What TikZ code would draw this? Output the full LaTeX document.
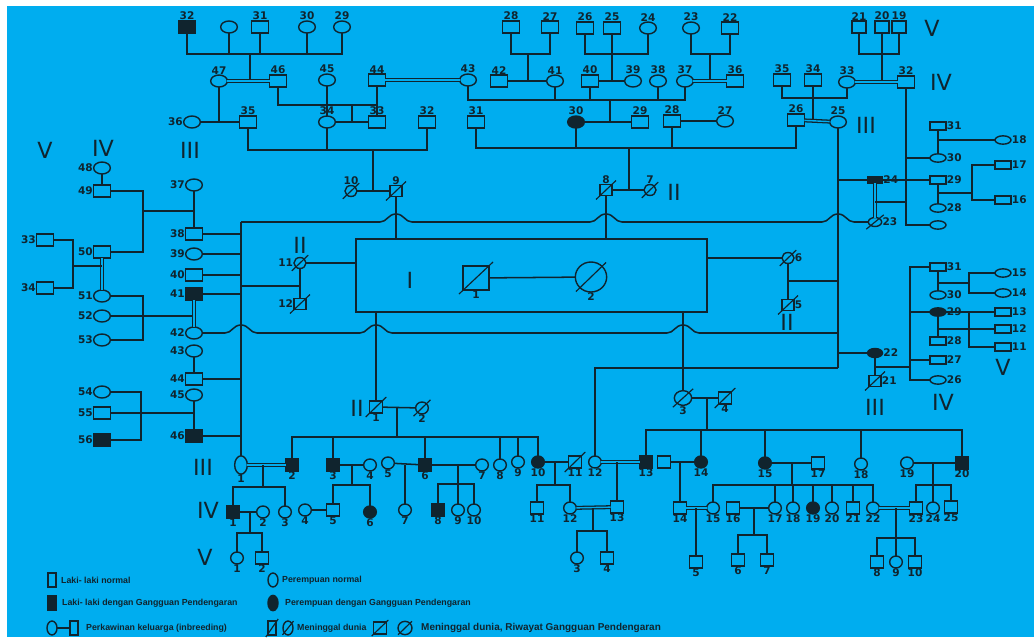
\documentclass[tikz,border=0pt]{standalone}
\usepackage{fontspec}
\setmainfont{DejaVu Sans}
\newfontfamily\lgfont{Liberation Sans}
\usetikzlibrary{shapes.geometric,positioning}

\definecolor{bgblue}{RGB}{0,173,239}
\definecolor{lncol}{RGB}{16,36,46}

% slash for a deceased person
\newcommand\dead[1]{\draw[lncol,line width=1pt] ([shift={(-4,4)}]#1.south west) -- ([shift={(4,-4)}]#1.north east);}
% line hop over a crossing vertical
\newcommand\hop[2]{-- ({#1-16},#2) .. controls ({#1-9},#2) and ({#1-8},{#2-8}) .. (#1,{#2-8}) .. controls ({#1+8},{#2-8}) and ({#1+9},#2) .. ({#1+16},#2)}

\tikzset{
  ln/.style={draw=lncol,line width=1.3pt},
  dbl/.style={draw=lncol,line width=1.1pt,double=bgblue,double distance=1.2pt},
  sym/.style={draw=lncol,line width=1.2pt,fill=bgblue,inner sep=0pt,outer sep=0pt},
  ml/.style={sym,rectangle,minimum width=0.5cm,minimum height=0.36cm},
  fm/.style={sym,ellipse,minimum width=0.5cm,minimum height=0.36cm},
  aff/.style={fill=lncol},
  sm/.style={minimum width=0.36cm,minimum height=0.33cm},
  bt/.style={minimum width=0.38cm,minimum height=0.36cm},
  flat/.style={minimum width=0.48cm,minimum height=0.25cm},
  lbl/.style={font=\bfseries\fontsize{9}{9}\selectfont,text=lncol,inner sep=0.6pt},
  every label/.style={lbl},
  gen/.style={font=\fontsize{19}{19}\selectfont,text=lncol,inner sep=0pt},
  lgt/.style={font=\lgfont\bfseries\fontsize{7.5}{8}\selectfont,text=lncol,anchor=west,inner sep=0pt},
  lgs/.style={minimum width=0.25cm,minimum height=0.42cm},
}

\begin{document}
\begin{tikzpicture}[x=0.03cm,y=-0.03cm]
  \useasboundingbox (0,0) rectangle (1034,637);
  \fill[white] (0,0) rectangle (1034,637);
  \fill[bgblue] (7,6) rectangle (1034,637);

  % generation V (top)
  \node[ml,aff,label=above:32] (tv32) at (187,27) {};
  \node[fm] (tvf) at (229,27) {};
  \node[ml,label=above:31] (tv31) at (260,27) {};
  \node[fm,label=above:30] (tv30) at (307,27) {};
  \node[fm,label=above:29] (tv29) at (342,27) {};
  \node[ml,label=above:28] (tv28) at (511,27) {};
  \node[ml,label=above:27] (tv27) at (550,27) {};
  \node[ml,label=above:26] (tv26) at (585,28) {};
  \node[ml,label=above:25] (tv25) at (612,28) {};
  \node[fm,label=above:24] (tv24) at (648,28) {};
  \node[fm,label=above:23] (tv23) at (691,28) {};
  \node[ml,label=above:22] (tv22) at (730,28) {};
  \node[ml,minimum width=0.42cm,label=above:21] (tv21) at (859,27) {};
  \node[ml,minimum width=0.42cm,label=above:20] (tv20) at (882,27) {};
  \node[ml,minimum width=0.42cm,label=above:19] (tv19) at (899,27) {};

  % generation IV (top)
  \node[fm,label=above:47] (ti47) at (219,81) {};
  \node[ml,label=above:46] (ti46) at (278,81) {};
  \node[fm,label=above:45] (ti45) at (327,80) {};
  \node[ml,label=above:44] (ti44) at (377,80) {};
  \node[fm,label=above:43] (ti43) at (468,80) {};
  \node[ml,label=above:42] (ti42) at (499,81) {};
  \node[fm,label=above:41] (ti41) at (555,81) {};
  \node[ml,label=above:40] (ti40) at (590,81) {};
  \node[fm,label=above:39] (ti39) at (633,81) {};
  \node[fm,label=above:38] (ti38) at (658,81) {};
  \node[fm,label=above:37] (ti37) at (685,81) {};
  \node[ml,label=above:36] (ti36) at (735,81) {};
  \node[ml,label=above:35] (ti35) at (782,80) {};
  \node[ml,label=above:34] (ti34) at (813,80) {};
  \node[fm,label=above:33] (ti33) at (847,82) {};
  \node[ml,label=above:32] (ti32) at (906,82) {};

  % generation III (top)
  \node[fm,label=left:36] (th36) at (192,122) {};
  \node[ml,label=above:35] (th35) at (248,122) {};
  \node[fm,label=above:34] (th34) at (327,122) {};
  \node[ml,label=above:33] (th33) at (377,122) {};
  \node[ml,label=above:32] (th32) at (427,122) {};
  \node[ml,label=above:31] (th31) at (476,122) {};
  \node[fm,aff,label=above:30] (th30) at (576,122) {};
  \node[ml,label=above:29] (th29) at (640,122) {};
  \node[ml,label=above:28] (th28) at (672,121) {};
  \node[fm,label=above:27] (th27) at (725,121) {};
  \node[ml,label=above:26] (th26) at (796,120) {};
  \node[fm,label=above:25] (th25) at (838,122) {};

  % generation II
  \node[fm,sm,label=above:10] (n10) at (351,191) {};
  \node[ml,sm,label=above:9] (n9) at (396,191) {};
  \node[ml,sm,label=above:8] (n8) at (606,190) {};
  \node[fm,sm,label=above:7] (n7) at (650,190) {};
  \node[fm,sm,label=left:11] (n11) at (300,263) {};
  \node[ml,sm,label=left:12] (n12) at (300,304) {};
  \node[fm,sm,label=right:6] (n6) at (788,258) {};
  \node[ml,sm,label=right:5] (n5) at (788,305) {};

  % generation I
  \node[draw=lncol,line width=1.3pt,minimum width=10.53cm,minimum height=2.19cm] (bx) at (531.5,275.5) {};
  \node[ml,minimum width=0.78cm,minimum height=0.72cm,label=below:1] (ia1) at (476,278) {};
  \node[fm,minimum width=0.94cm,minimum height=0.9cm,label=below:2] (ia2) at (591,277) {};

  % left side
  \node[fm,label=left:48] (li48) at (102,168) {};
  \node[ml,label=left:49] (li49) at (102,191) {};
  \node[ml,label=left:50] (li50) at (102,252) {};
  \node[fm,label=left:51] (li51) at (102,296) {};
  \node[fm,label=left:52] (li52) at (102,316) {};
  \node[fm,label=left:53] (li53) at (102,340) {};
  \node[ml,label=left:33] (lv33) at (45,240) {};
  \node[ml,label=left:34] (lv34) at (45,288) {};
  \node[fm,label=left:54] (li54) at (102,392) {};
  \node[ml,label=left:55] (li55) at (102,413) {};
  \node[ml,aff,label=left:56] (li56) at (102,440) {};
  \node[fm,label=left:37] (lh37) at (194,185) {};
  \node[ml,label=left:38] (lh38) at (194,234) {};
  \node[fm,label=left:39] (lh39) at (194,254) {};
  \node[ml,label=left:40] (lh40) at (194,275) {};
  \node[ml,aff,label=left:41] (lh41) at (194,294) {};
  \node[fm,label=left:42] (lh42) at (194,333) {};
  \node[fm,label=left:43] (lh43) at (194,351) {};
  \node[ml,label=left:44] (lh44) at (194,379) {};
  \node[fm,label=left:45] (lh45) at (194,395) {};
  \node[ml,aff,label=left:46] (lh46) at (194,436) {};

  % right side
  \node[ml,aff,minimum width=0.45cm,minimum height=0.18cm,label=right:24] (rh24) at (875,180) {};
  \node[fm,minimum width=0.4cm,minimum height=0.27cm,label=right:23] (rh23) at (875,222) {};
  \node[fm,aff,minimum width=0.45cm,minimum height=0.27cm,label=right:22] (rh22) at (875,353) {};
  \node[ml,sm,label=right:21] (rh21) at (875,381) {};
  \node[ml,flat,label=right:31] (ri31) at (938,126) {};
  \node[fm,flat,label=right:30] (ri30) at (938,158) {};
  \node[ml,flat,label=right:29] (ri29) at (938,180) {};
  \node[fm,flat,label=right:28] (ri28) at (938,208) {};
  \node[fm,flat] (riu) at (938,225) {};
  \node[fm,flat,label=right:18] (rv18) at (1003,140) {};
  \node[ml,flat,label=right:17] (rv17) at (1003,165) {};
  \node[ml,flat,label=right:16] (rv16) at (1003,200) {};
  \node[ml,flat,label=right:31] (rj31) at (938,267) {};
  \node[fm,flat,label=right:30] (rj30) at (938,295) {};
  \node[fm,flat,aff,label=right:29] (rj29) at (938,312) {};
  \node[ml,flat,label=right:28] (rj28) at (938,341) {};
  \node[ml,flat,label=right:27] (rj27) at (938,360) {};
  \node[fm,flat,label=right:26] (rj26) at (938,380) {};
  \node[fm,flat,label=right:15] (rv15) at (1003,273) {};
  \node[fm,flat,label=right:14] (rv14) at (1003,293) {};
  \node[ml,flat,label=right:13] (rv13) at (1003,312) {};
  \node[ml,flat,label=right:12] (rv12) at (1003,329) {};
  \node[ml,flat,label=right:11] (rv11) at (1003,347) {};

  % generation II (bottom)
  \node[ml,bt,label=below:1] (bb1) at (376,407) {};
  \node[fm,bt,label=below:2] (bb2) at (422,408) {};
  \node[fm,minimum width=0.52cm,minimum height=0.44cm,label=below:3] (bb3) at (683,398) {};
  \node[ml,bt,label=below:4] (bb4) at (725,398) {};

  % generation III (bottom)
  \node[fm,minimum width=0.38cm,minimum height=0.55cm,label=below:1] (bc1) at (241,465) {};
  \node[ml,bt,aff,label=below:2] (bc2) at (292,465) {};
  \node[ml,bt,aff,label=below:3] (bc3) at (333,465) {};
  \node[fm,bt,label=below:4] (bc4) at (370,465) {};
  \node[fm,bt,label=below:5] (bc5) at (388,463) {};
  \node[ml,bt,aff,label=below:6] (bc6) at (425,465) {};
  \node[fm,bt,label=below:7] (bc7) at (482,465) {};
  \node[fm,bt,label=below:8] (bc8) at (500,465) {};
  \node[fm,bt,label=below:9] (bc9) at (518,462) {};
  \node[fm,bt,aff,label=below:10] (bc10) at (538,462) {};
  \node[ml,bt,label=below:11] (bc11) at (575,462) {};
  \node[fm,bt,label=below:12] (bc12) at (595,462) {};
  \node[ml,bt,aff,label=below:13] (bc13) at (646,462) {};
  \node[ml,bt] (bcs) at (664,462) {};
  \node[fm,bt,aff,label=below:14] (bc14) at (701,462) {};
  \node[fm,bt,aff,label=below:15] (bc15) at (765,463) {};
  \node[ml,bt,label=below:17] (bc17) at (818,463) {};
  \node[fm,bt,label=below:18] (bc18) at (861,464) {};
  \node[fm,bt,label=below:19] (bc19) at (907,463) {};
  \node[ml,bt,aff,label=below:20] (bc20) at (962,463) {};

  % generation IV (bottom)
  \node[ml,bt,aff,label=below:1] (bd1) at (233,512) {};
  \node[fm,bt,label=below:2] (bd2) at (263,512) {};
  \node[fm,bt,label=below:3] (bd3) at (285,512) {};
  \node[fm,bt,label=below:4] (bd4) at (305,510) {};
  \node[ml,bt,label=below:5] (bd5) at (333,510) {};
  \node[fm,bt,aff,label=below:6] (bd6) at (370,512) {};
  \node[fm,bt,label=below:7] (bd7) at (405,510) {};
  \node[ml,bt,aff,label=below:8] (bd8) at (438,510) {};
  \node[fm,bt,label=below:9] (bd9) at (458,510) {};
  \node[fm,bt,label=below:10] (bd10) at (474,510) {};
  \node[ml,bt,label=below:11] (bd11) at (537,508) {};
  \node[fm,bt,label=below:12] (bd12) at (570,508) {};
  \node[ml,bt,label=below:13] (bd13) at (617,507) {};
  \node[ml,bt,label=below:14] (bd14) at (680,508) {};
  \node[fm,bt,label=below:15] (bd15) at (713,508) {};
  \node[ml,bt,label=below:16] (bd16) at (733,508) {};
  \node[fm,bt,label=below:17] (bd17) at (775,508) {};
  \node[fm,bt,label=below:18] (bd18) at (793,508) {};
  \node[fm,bt,aff,label=below:19] (bd19) at (813,508) {};
  \node[fm,bt,label=below:20] (bd20) at (832,508) {};
  \node[ml,bt,label=below:21] (bd21) at (853,508) {};
  \node[fm,bt,label=below:22] (bd22) at (873,508) {};
  \node[ml,bt,label=below:23] (bd23) at (916,508) {};
  \node[fm,bt,label=below:24] (bd24) at (933,508) {};
  \node[ml,bt,label=below:25] (bd25) at (951,507) {};

  % generation V (bottom)
  \node[fm,bt,label=below:1] (be1) at (237,558) {};
  \node[ml,bt,label=below:2] (be2) at (262,558) {};
  \node[fm,bt,label=below:3] (be3) at (577,558) {};
  \node[ml,bt,label=below:4] (be4) at (607,558) {};
  \node[ml,bt,label=below:5] (be5) at (696,562) {};
  \node[ml,bt,label=below:6] (be6) at (738,560) {};
  \node[ml,bt,label=below:7] (be7) at (767,560) {};
  \node[ml,bt,label=below:8] (be8) at (877,562) {};
  \node[fm,bt,label=below:9] (be9) at (896,562) {};
  \node[ml,bt,label=below:10] (be10) at (915,562) {};

  \foreach \n in {n10,n9,n8,n7,n11,n12,n6,n5,ia1,ia2,rh23,rh21,bb1,bb2,bb3,bb4,bc11} {\dead{\n}}

  % generation numerals
  \node[gen] (gv1) at (45,150) {V};
  \node[gen] (gi1) at (103,148) {IV};
  \node[gen] (gh1) at (190,150) {III};
  \node[gen] (gt1) at (300,245) {II};
  \node[gen] (gt2) at (674,192) {II};
  \node[gen] (gh2) at (866,125) {III};
  \node[gen] (gv2) at (932,28) {V};
  \node[gen] (gi2) at (941,82) {IV};
  \node[gen] (gt3) at (787,322) {II};
  \node[gen] (gh3) at (875,407) {III};
  \node[gen] (gi3) at (943,402) {IV};
  \node[gen] (gv3) at (1003,367) {V};
  \node[gen] (gt4) at (357,408) {II};
  \node[gen] (gh4) at (203,467) {III};
  \node[gen] (gi4) at (208,510) {IV};
  \node[gen] (gv4) at (205,557) {V};
  \node[gen] (g1) at (410,280) {I};

  % top left families
  \draw[ln] (tv32) |- (250,54) -| (tv29);
  \foreach \n in {tvf,tv31,tv30} {\draw[ln] (\n) -- (\n |- 0,54);}
  \draw[ln] (250,54) -- (250,81);
  \draw[dbl] (ti47) -- (ti46);
  \draw[ln] (ti46) |- (ti44 |- 0,105);
  \draw[ln] (ti44) -- (th33);
  \draw[ln] (ti45) -- (th34);
  \draw[ln] (th34) -- (th33);
  \draw[ln] (352,105) -- (352,122);
  \draw[ln] (ti47) -- (ti47 |- th36);
  \draw[ln] (th36) -- (th35);
  \draw[ln] (th35) |- (373,150) -| (th32);
  \draw[ln] (th34) -- (th34 |- 0,150);
  \draw[ln] (373,150) -- (373,191);
  \draw[ln] (n10) -- (n9);
  \draw[dbl] (ti44) -- (ti43);

  % top middle families
  \draw[ln] (tv28) |- (528,54) -| (tv27);
  \draw[ln] (528,54) -- (528,81);
  \draw[ln] (ti42) -- (ti41);
  \draw[ln] (tv26) |- (tv25 |- 0,54) -| (tv24);
  \draw[ln] (tv25) -- (tv25 |- ti40);
  \draw[ln] (ti40) -- (ti39);
  \draw[ln] (tv23) |- (710,54) -| (tv22);
  \draw[ln] (710,54) -- (710,81);
  \draw[dbl] (ti37) -- (ti36);
  \draw[ln] (ti43) |- (610,100) -| (ti37);
  \foreach \n in {ti41,ti40,ti38} {\draw[ln] (\n) -- (\n |- 0,100);}
  \draw[ln] (610,100) -- (610,122);
  \draw[ln] (th30) -- (th29);
  \draw[ln] (th28) -- (th27);
  \draw[ln] (th31) |- (629,148) -| (th26);
  \foreach \n in {th30,th28} {\draw[ln] (\n) -- (\n |- 0,148);}
  \draw[ln] (629,148) -- (629,190);
  \draw[ln] (n8) -- (n7);

  % top right families
  \draw[ln] (tv21) |- (tv20 |- 0,54) -| (tv19);
  \draw[ln] (tv20) -- (tv20 |- ti32);
  \draw[dbl] (ti33) -- (ti32);
  \draw[ln] (ti35) |- (813,98) -| (ti33);
  \draw[ln] (ti34) -- (ti34 |- th26);
  \draw[dbl] (th26) -- (th25);
  \draw[ln] (th25) -- (838,368);
  \draw[ln] (ti32) -- (906,225) -- (riu);
  \draw[ln] (906,158) -- (ri30);
  \draw[ln] (ri31) -- (ri30);
  \draw[ln] (ri31 |- rv18) -- (rv18);
  \draw[ln] (ri29) -- (ri28);
  \draw[ln] (ri29 |- 0,193) -- (972,193);
  \draw[ln] (rv17) -| (972,193) |- (rv16);
  \draw[ln] (838,180) -- (rh24) -- (ri29);
  \draw[dbl] (rh24) -- (rh23);
  \draw[ln] (875,202) -- (906,202);
  \draw[ln] (241,222) \hop{396}{222} \hop{606}{222} \hop{838}{222} -- (rh23);

  % around generation I
  \draw[ln] (n9) -- (n9 |- bx.north);
  \draw[ln] (n8) -- (n8 |- bx.north);
  \draw[ln] (n11) -- (n11 -| bx.west);
  \draw[ln] (n11) -- (n12);
  \draw[ln] (241,286) -- (n11 |- 0,286);
  \draw[ln] (ia1) -- (ia2);
  \draw[ln] (bx.east |- n6) -- (n6);
  \draw[ln] (n6) -- (n5);
  \draw[ln] (788,281) -- (838,281);
  \draw[ln] (bx.south -| bb1) -- (bb1);
  \draw[ln] (bx.south -| bb3) -- (bb3);
  \draw[ln] (lh42) \hop{241}{333} \hop{376}{333} \hop{683}{333} -- (838,333);

  % left families
  \draw[ln] (241,222) -- (bc1);
  \foreach \n in {lh38,lh39,lh40,lh41,lh44,lh46} {\draw[ln] (\n) -- (\n -| bc1);}
  \draw[ln] (lh37) -- (lh38);
  \draw[ln] (143,211) -- (lh37 |- 0,211);
  \draw[ln] (li48) -- (li49);
  \draw[ln] (li49) -| (143,252) -- (li50);
  \draw[dbl] (li50) -- (li51);
  \draw[ln] (li51) -| (143,340) -- (li53);
  \draw[ln] (li52) -- (li52 -| lh41);
  \draw[dbl] (lh41) -- (lh42);
  \draw[ln] (lv33) -| (73,288) -- (lv34);
  \draw[ln] (73,266) -- (li50 |- 0,266);
  \draw[ln] (lh43) -- (lh44);
  \draw[ln] (lh45) -- (lh46);
  \draw[ln] (li54) -| (141,440) -- (li56);
  \draw[ln] (li55) -- (li55 -| lh45);

  % right lower families
  \draw[ln] (838,353) -- (rh22);
  \draw[ln] (rh22) -- (rh21);
  \draw[ln] (rj31) -| (910,367) |- (rj26);
  \draw[ln] (875,367) -- (910,367);
  \draw[ln] (910,312) -- (rj29);
  \draw[ln] (910,360) -- (rj27);
  \draw[ln] (rj31) -- (rj30);
  \draw[ln] (rj31 |- 0,283) -- (969,283);
  \draw[ln] (rv15) -| (969,283) |- (rv14);
  \draw[ln] (rj29) -- (rj28);
  \draw[ln] (rj29) -- (rv13);
  \draw[ln] (rv13) -| (969,347) -- (rv11);
  \draw[ln] (rj29 |- rv12) -- (rv12);
  \draw[ln] (bc12) -- (bc12 |- 0,368) -- (838,368);

  % bottom families
  \draw[ln] (bb1) -- (bb2);
  \draw[ln] (397,407) -- (397,437);
  \draw[ln] (bc2) |- (397,437) -| (bc10);
  \foreach \n in {bc3,bc6,bc8,bc9} {\draw[ln] (\n) -- (\n |- 0,437);}
  \draw[dbl] (bc1) -- (bc2);
  \draw[ln] (263,465) -- (263,487);
  \draw[ln] (bd1) |- (263,487) -| (bd3);
  \draw[ln] (bd1) -- (bd2);
  \draw[ln] (250,512) -- (250,533);
  \draw[ln] (be1) |- (250,533) -| (be2);
  \draw[ln] (bc3) -- (bc4);
  \draw[ln] (352,465) -- (352,485);
  \draw[ln] (bd5) |- (352,485) -| (bd6);
  \draw[ln] (bd4) -- (bd5);
  \draw[ln] (bc5) -- (bc6);
  \draw[ln] (bd7 |- bc6) -- (bd7);
  \draw[ln] (bc6) -- (bc7);
  \draw[ln] (bd9 |- bc6) -- (bd9);
  \draw[ln] (bd8) |- (458,484) -| (bd10);
  \draw[ln] (bc10) -- (bc11);
  \draw[ln] (555,462) -- (555,485);
  \draw[ln] (bd11) |- (555,485) -| (bd12);
  \draw[dbl] (bc12) -- (bc13);
  \draw[ln] (bd13 |- bc12) -- (bd13);
  \draw[dbl] (bd12) -- (bd13);
  \draw[ln] (593,508) -- (593,531);
  \draw[ln] (be3) |- (593,531) -| (be4);
  \draw[ln] (bb3) -- (bb4);
  \draw[ln] (707,398) -- (707,430);
  \draw[ln] (bc13) |- (707,430) -| (bc20);
  \foreach \n in {bc14,bc15,bc18} {\draw[ln] (\n) -- (\n |- 0,430);}
  \draw[ln] (bcs) -- (bc14);
  \draw[ln] (bd14 |- bcs) -- (bd14);
  \draw[dbl] (bd14) -- (bd15);
  \draw[ln] (be5 |- bd14) -- (be5);
  \draw[ln] (bc15) -- (bc17);
  \draw[ln] (792,463) -- (792,485);
  \draw[ln] (bd15) |- (792,485) -| (bd22);
  \foreach \n in {bd17,bd18,bd19,bd20,bd21} {\draw[ln] (\n) -- (\n |- 0,485);}
  \draw[ln] (bd16) -- (bd17);
  \draw[ln] (754,508) -- (754,535);
  \draw[ln] (be6) |- (754,535) -| (be7);
  \draw[dbl] (bd22) -- (bd23);
  \draw[ln] (be9 |- bd22) -- (be9);
  \draw[ln] (be8) |- (896,538) -| (be10);
  \draw[ln] (bc19) -- (bc20);
  \draw[ln] (bd24 |- bc19) -- (bd24);
  \draw[ln] (bd23) |- (933,485) -| (bd25);

  % legend
  \node[ml,lgs] (lg1) at (52,580) {};
  \node[lgt] (lt1) at (61,580) {Laki- laki normal};
  \node[ml,lgs,aff] (lg2) at (52,603) {};
  \node[lgt] (lt2) at (62,603) {Laki- laki dengan Gangguan Pendengaran};
  \node[fm,minimum width=0.3cm,minimum height=0.42cm] (lg3a) at (52,628) {};
  \node[ml,lgs] (lg3b) at (74,628) {};
  \draw[ln,line width=1pt] (lg3a) -- (lg3b);
  \node[lgt] (lt3) at (86,628) {Perkawinan keluarga (inbreeding)};
  \node[fm,minimum width=0.3cm,minimum height=0.42cm] (lg4) at (273,580) {};
  \node[lgt] (lt4) at (282,580) {Perempuan normal};
  \node[fm,aff,minimum width=0.3cm,minimum height=0.46cm] (lg5) at (273,603) {};
  \node[lgt] (lt5) at (285,603) {Perempuan dengan Gangguan Pendengaran};
  \node[ml,lgs] (lg6) at (272,628) {};
  \node[fm,minimum width=0.3cm,minimum height=0.42cm] (lg7) at (288,628) {};
  \node[lgt] (lt6) at (297,628) {Meninggal dunia};
  \node[ml,minimum width=0.38cm,minimum height=0.36cm] (lg8) at (380,628) {};
  \node[fm,minimum width=0.42cm,minimum height=0.4cm] (lg9) at (405,628) {};
  \node[lgt,font=\lgfont\bfseries\fontsize{8.5}{9}\selectfont] (lt7) at (421,628) {Meninggal dunia, Riwayat Gangguan Pendengaran};
  \foreach \n in {lg6,lg7,lg8,lg9} {\draw[lncol,line width=1pt] ([shift={(-2,2)}]\n.south west) -- ([shift={(2,-2)}]\n.north east);}
\end{tikzpicture}
\end{document}
